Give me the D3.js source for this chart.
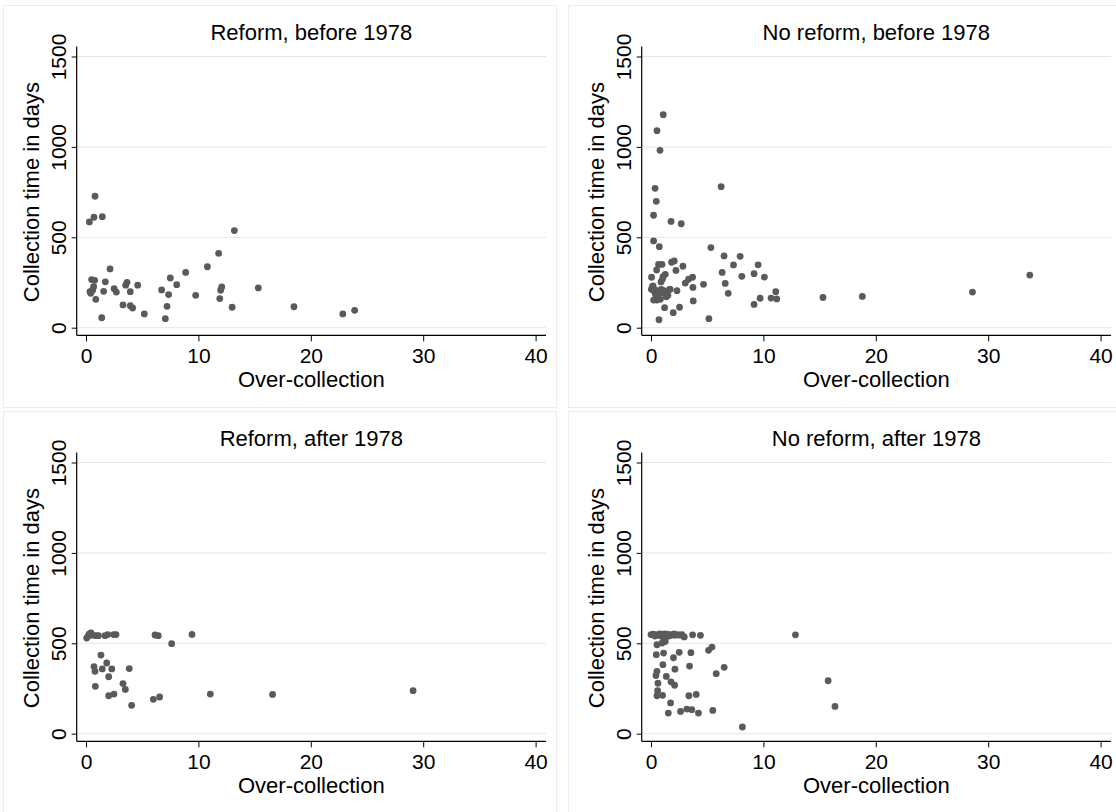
<!DOCTYPE html>
<html>
<head>
<meta charset="utf-8">
<script src="https://cdn.jsdelivr.net/npm/d3@7"></script>
<style>
  body { margin: 0; background: #fff; }
  svg text { font-family: "Liberation Sans", Arial, Helvetica, sans-serif; fill: #000; }
</style>
</head>
<body>
<script>
// DATA
const panelTitles = ["Reform, before 1978", "No reform, before 1978", "Reform, after 1978", "No reform, after 1978"];
const xTicks = [0, 10, 20, 30, 40];
const yTicks = [0, 500, 1000, 1500];
const xLabel = "Over-collection";
const yLabel = "Collection time in days";

// [over-collection, collection time in days]
const reformBefore = [
  [0.80,727],[0.30,585],[0.71,611],[1.45,614],[13.2,537],[11.8,411],[10.8,337],[2.14,325],[8.87,306],
  [0.50,266],[0.77,262],[1.72,254],[7.50,275],[8.07,238],[4.60,235],[3.65,251],[3.53,235],[2.50,216],
  [2.70,197],[3.94,199],[6.73,209],[7.35,183],[9.76,179],[12.08,225],[11.98,207],[11.90,161],[15.33,220],
  [1.57,201],[0.42,190],[0.60,209],[0.68,227],[0.87,157],[3.29,126],[3.94,122],[4.15,109],[5.19,76],
  [7.21,118],[7.06,50],[1.40,55],[13.0,113],[18.5,116],[22.85,76],[23.9,96],[0.35,200]
];
const noReformBefore = [
  [1.09,1178],[0.53,1090],[0.80,981],[0.36,771],[6.24,780],[0.47,699],[0.23,622],[1.78,588],[2.69,575],
  [9.53,348],[9.17,299],[10.09,280],[11.1,199],[10.68,164],[11.19,159],[9.71,163],[9.17,129],
  [15.3,167],[18.8,173],[28.6,197],[33.7,291],
  [0.23,480],[0.74,448],[5.33,443],[6.5,397],[7.93,395],[7.34,347],[8.08,284],[6.33,306],[6.6,245],
  [6.87,190],[5.15,50],[0.67,350],[0.98,350],[1.83,362],[2.07,369],[2.84,340],[0.5,319],[2.22,317],
  [1.27,295],[1.03,269],[0.05,279],[3.7,279],[3.34,268],[3.05,247],[4.67,240],[3.73,223],[0.18,231],
  [0.03,212],[0.38,209],[0.91,212],[1.65,212],[2.31,205],[0.68,190],[1.27,186],[0.23,153],[0.83,157],
  [1.36,171],[3.76,148],[1.21,111],[2.54,113],[1.98,83],[0.71,44],[0.47,171],[0.53,153],
  [0.12,227],[0.89,253],[1.07,282],[0.27,203],[1.71,212],[0.6,200],[1.0,195],[0.4,185],[1.5,180],[1.15,205]
];
const reformAfter = [
  [0.06,529],[0.27,551],[0.44,557],[0.89,542],[1.1,542],[1.69,542],[1.93,548],[2.46,548],[2.67,548],
  [6.14,546],[6.43,542],[7.62,498],[9.43,549],[1.33,435],[0.71,371],[0.8,345],[1.45,358],[1.84,391],
  [2.29,358],[3.85,360],[2.02,315],[0.83,262],[3.29,277],[3.5,245],[2.02,210],[2.49,219],[4.06,157],
  [5.99,190],[6.55,203],[11.06,219],[16.6,217],[29.1,238],[0.6,545],[0.2,540]
];
const noReformAfter = [
  [0.0,548],[0.2,550],[0.35,540],[0.5,548],[0.65,545],[0.8,552],[0.9,540],[1.0,548],[1.1,535],[1.2,552],
  [1.3,543],[1.45,550],[1.6,540],[1.75,548],[1.9,545],[2.05,552],[2.2,545],[2.4,548],[2.6,545],[2.75,548],
  [2.96,535],[3.7,547],[4.4,544],
  [0.53,492],[0.98,501],[1.27,510],[5.42,479],[5.12,461],[0.47,437],[1.12,446],[2.51,450],[2.0,420],
  [3.55,448],[1.06,382],[2.13,357],[3.43,374],[6.51,367],[5.8,332],[0.53,345],[0.44,322],[1.36,317],
  [1.78,287],[2.1,268],[0.62,279],[0.59,238],[0.53,210],[1.03,212],[3.37,210],[4.02,217],[1.74,170],
  [1.54,114],[2.63,123],[3.19,136],[3.63,133],[4.22,114],[5.5,129],[8.13,37],
  [12.85,547],[15.76,293],[16.37,151]
];
const panelData = [reformBefore, noReformBefore, reformAfter, noReformAfter];

// LAYOUT
const WIDTH = 1116;
const HEIGHT = 812;
const offsets = [[0, 0], [565, 0], [0, 406], [565, 406]];
const frame = { left: 76.7, right: 546, top: 46.5, bottom: 335.3 };

const x = d3.scaleLinear().domain([0, 40]).range([86, 535.6]);
const y = d3.scaleLinear().domain([0, 1500]).range([327.7, 56.5]);

const svg = d3.select("body").append("svg").attr("width", WIDTH).attr("height", HEIGHT);
svg.append("rect").attr("width", WIDTH).attr("height", HEIGHT).attr("fill", "#fff");

const drawPanel = (i) => {
  const g = svg.append("g").attr("transform", `translate(${offsets[i][0]},${offsets[i][1]})`);

  // panel outline
  g.append("rect")
    .attr("x", 3.5).attr("y", 5.5).attr("width", 553).attr("height", 402)
    .attr("fill", "none").attr("stroke", "#ececec").attr("stroke-width", 1);

  // gridlines
  g.append("g").selectAll("line")
    .data(yTicks)
    .enter()
    .append("line")
    .attr("x1", frame.left).attr("x2", frame.right)
    .attr("y1", d => y(d)).attr("y2", d => y(d))
    .attr("stroke", "#e6e6e6").attr("stroke-width", 1);

  // x axis
  const xAxis = g.append("g")
    .attr("transform", `translate(0,${frame.bottom})`)
    .call(d3.axisBottom(x).tickValues(xTicks).tickSize(6).tickFormat(d3.format("d")));
  xAxis.select(".domain").remove();
  xAxis.selectAll(".tick line").attr("stroke", "#000");
  xAxis.selectAll(".tick text")
    .attr("y", 28).attr("dy", null)
    .style("font-size", "21px");

  // y axis
  const yAxis = g.append("g")
    .attr("transform", `translate(${frame.left},0)`)
    .call(d3.axisLeft(y).tickValues(yTicks).tickSize(5).tickFormat(d3.format("d")));
  yAxis.select(".domain").remove();
  yAxis.selectAll(".tick line").attr("stroke", "#000");
  yAxis.selectAll(".tick text")
    .attr("x", null).attr("dy", null)
    .attr("text-anchor", "middle")
    .attr("transform", "translate(-11,0) rotate(-90)")
    .style("font-size", "21px");

  // axis lines
  g.append("line")
    .attr("x1", frame.left).attr("x2", frame.right)
    .attr("y1", frame.bottom).attr("y2", frame.bottom)
    .attr("stroke", "#000").attr("stroke-width", 1.2);
  g.append("line")
    .attr("x1", frame.left).attr("x2", frame.left)
    .attr("y1", frame.top).attr("y2", frame.bottom)
    .attr("stroke", "#000").attr("stroke-width", 1.2);

  // points
  g.append("g").selectAll("circle")
    .data(panelData[i])
    .enter()
    .append("circle")
    .attr("cx", d => x(d[0]))
    .attr("cy", d => y(d[1]))
    .attr("r", 3.4)
    .attr("fill", "#5a5a5a");

  // titles
  const cx = (frame.left + frame.right) / 2;
  g.append("text")
    .attr("x", cx).attr("y", 39.5)
    .attr("text-anchor", "middle")
    .style("font-size", "22px")
    .text(panelTitles[i]);
  g.append("text")
    .attr("x", cx).attr("y", 386.5)
    .attr("text-anchor", "middle")
    .style("font-size", "22px")
    .text(xLabel);
  g.append("text")
    .attr("transform", `translate(39,${(y(0) + y(1500)) / 2}) rotate(-90)`)
    .attr("text-anchor", "middle")
    .style("font-size", "22px")
    .text(yLabel);
};

panelTitles.forEach((t, i) => drawPanel(i));
</script>
</body>
</html>
